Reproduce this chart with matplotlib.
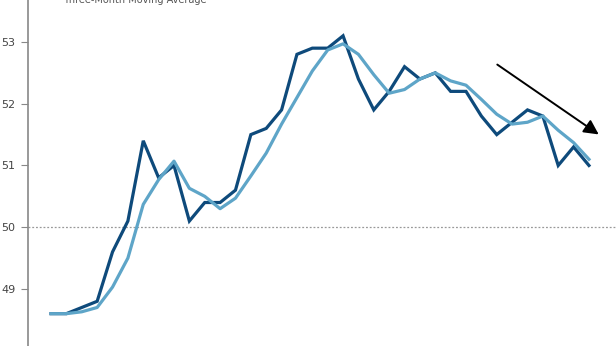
import matplotlib
matplotlib.use("Agg")
import matplotlib.pyplot as plt

# monthly index readings (dark) and three-month moving average (light)
months = list(range(36))
monthly = [48.6, 48.6, 48.7, 48.8, 49.6, 50.1, 51.4, 50.8, 51.0, 50.1, 50.4, 50.4,
           50.6, 51.5, 51.6, 51.9, 52.8, 52.9, 52.9, 53.1, 52.4, 51.9, 52.2, 52.6,
           52.4, 52.5, 52.2, 52.2, 51.8, 51.5, 51.7, 51.9, 51.8, 51.0, 51.3, 51.0]
three_month = [48.6, 48.6, 48.63, 48.7, 49.03, 49.5, 50.37, 50.77, 51.07, 50.63, 50.5, 50.3,
               50.47, 50.83, 51.2, 51.67, 52.1, 52.53, 52.87, 52.97, 52.8, 52.47, 52.17, 52.23,
               52.4, 52.5, 52.37, 52.3, 52.07, 51.83, 51.67, 51.7, 51.8, 51.57, 51.37, 51.1]
yticks = [49, 50, 51, 52, 53]

dark = "#0e4a7b"
light = "#5ea5c8"

fig = plt.figure(figsize=(6.16, 3.46), dpi=100)
ax = fig.add_axes([28 / 616, 0, 1 - 28 / 616, 1])

ax.axhline(50, color="#999999", lw=0.9, ls=(0, (1.5, 1.5)), zorder=1)
ax.plot(months, monthly, color=dark, lw=2.3, zorder=3, solid_joinstyle="miter")
ax.plot(months, three_month, color=light, lw=2.3, zorder=4)

ax.set_xlim(-1.5, 36.76)
ax.set_ylim(48.076, 53.68)
ax.set_yticks(yticks)
ax.set_xticks([])

for s in ["top", "right", "bottom"]:
    ax.spines[s].set_visible(False)
ax.spines["left"].set_color("#888888")
ax.spines["left"].set_linewidth(1.2)
ax.tick_params(axis="y", direction="out", length=5, width=0.8, color="#888888",
               labelsize=8, labelcolor="#444444", pad=4)

# downward trend arrow
ax.annotate("", xy=(601 / 616, 1 - 136 / 346), xytext=(495 / 616, 1 - 63 / 346),
            xycoords="figure fraction", textcoords="figure fraction",
            arrowprops=dict(arrowstyle="-|>,head_length=0.55,head_width=0.28",
                            color="black", lw=1.4, mutation_scale=16))

fig.text(63 / 616, 1.0, "Three-Month Moving Average", fontsize=7, color="#555555",
         va="center", ha="left")

fig.savefig("out.png", dpi=100)
